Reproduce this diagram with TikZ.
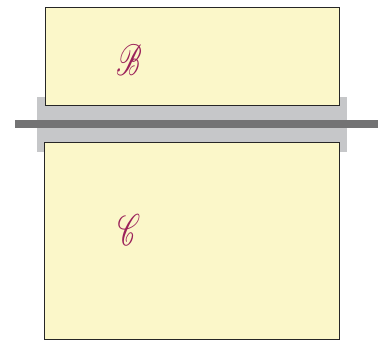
\documentclass[tikz,border=0pt]{standalone}
\usepackage{mathrsfs}
\usepackage{graphicx}
\definecolor{boxfill}{RGB}{251,247,201}
\definecolor{bandgrey}{RGB}{198,199,201}
\definecolor{linegrey}{RGB}{115,115,116}
\definecolor{lettercol}{RGB}{155,34,90}
\tikzset{
  panel/.style={draw=black!85, line width=1.2pt, fill=boxfill},
  letter/.style={text=lettercol, inner sep=0pt}
}
\begin{document}
\begin{tikzpicture}[x=1pt,y=-1pt]
\useasboundingbox (0,0) rectangle (390,341);
\fill[bandgrey] (37,97) rectangle (347,152);
\node[panel, minimum width=294pt, minimum height=98pt, inner sep=0pt, anchor=north west] (top) at (45,7) {};
\node[panel, minimum width=295.5pt, minimum height=197pt, inner sep=0pt, anchor=north west] (bottom) at (43.5,142) {};
\fill[linegrey] (15,120) rectangle (378,128);
\node[letter] (b) at (129,60) {\scalebox{2.7}[4.4]{$\mathscr{B}$}};
\node[letter] (c) at (129,230) {\scalebox{2.7}[4.4]{$\mathscr{C}$}};
\end{tikzpicture}
\end{document}
